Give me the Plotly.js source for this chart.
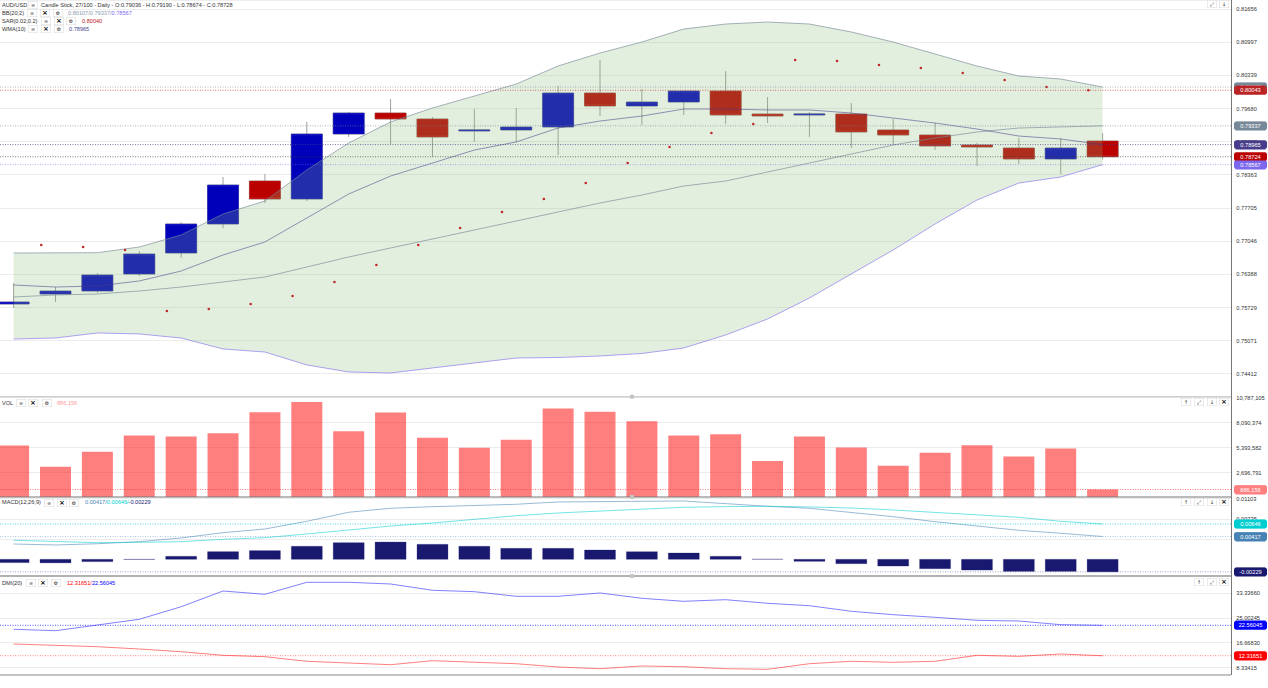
<!DOCTYPE html>
<html><head><meta charset="utf-8">
<script src="https://cdn.plot.ly/plotly-3.0.1.min.js"></script>
<style>html,body{margin:0;padding:0;background:#fff;overflow:hidden}#c{width:1268px;height:688px}</style>
</head><body><div id="c"></div>
<script>
// ---- Candles ----
const idx = [0,1,2,3,4,5,6,7,8,9,10,11,12,13,14,15,16,17,18,19,20,21,22,23,24,25,26];
const open  = [.75801,.75999,.76059,.76396,.76813,.77389,.78242,.77885,.79175,.79592,.79473,.79235,.79255,.79314,.79989,.79731,.79810,.80028,.79572,.79552,.79572,.79255,.79155,.78957,.78897,.78679,.79036];
const high  = [.76218,.76138,.76416,.76853,.77429,.78322,.78381,.79413,.79612,.79870,.79513,.79671,.79691,.80128,.80644,.80068,.80028,.80425,.79909,.79612,.79790,.79473,.79393,.78997,.79096,.79096,.79190];
const low   = [.75722,.75841,.76019,.76357,.76714,.77309,.77806,.77845,.79116,.78977,.78719,.79017,.79017,.78758,.79532,.79354,.79552,.79374,.79393,.79116,.78897,.78957,.78858,.78540,.78580,.78381,.78674];
const close = [.75841,.76059,.76377,.76794,.77389,.78163,.77885,.79175,.79592,.79473,.79116,.79255,.79314,.79989,.79731,.79810,.80028,.79552,.79532,.79572,.79215,.79155,.78937,.78917,.78679,.78897,.78724];
// ---- Overlays ----
const bbUpper = [.76813,.76813,.76819,.76932,.77171,.77587,.77845,.78461,.78997,.79413,.79691,.79929,.80167,.80525,.80783,.81001,.81259,.81358,.81398,.81358,.81200,.81001,.80763,.80525,.80326,.80267,.80107];
const bbMid   = [.75940,.75980,.75999,.76059,.76138,.76238,.76337,.76535,.76734,.76913,.77091,.77270,.77448,.77627,.77806,.77964,.78143,.78242,.78421,.78600,.78778,.78957,.79096,.79215,.79294,.79314,.79337];
const bbLower = [.75106,.75126,.75226,.75206,.75126,.74908,.74848,.74591,.74452,.74432,.74531,.74630,.74729,.74739,.74769,.74819,.74928,.75186,.75503,.75920,.76396,.76873,.77389,.77865,.78202,.78322,.78567];
const wma     = [.76178,.76138,.76158,.76258,.76456,.76774,.77032,.77508,.77984,.78341,.78600,.78857,.79017,.79294,.79433,.79532,.79671,.79671,.79652,.79652,.79592,.79493,.79393,.79274,.79135,.79076,.78965];
const sarIdx  = [1,2,3,4,5,6,7,8,9,10,11,12,13,14,15,16,17,18,19,20,21,22,23,24,25,26];
const sar     = [.76972,.76932,.76873,.75662,.75702,.75801,.75960,.76238,.76575,.76972,.77309,.77627,.77885,.78202,.78600,.78917,.79195,.79374,.80644,.80624,.80544,.80485,.80386,.80247,.80107,.80043];
// ---- Volume ----
const volume = [5645000,3352000,4957000,6737000,6627000,6955000,9248000,10339000,7173000,9215000,6485000,5394000,6267000,9652000,9280000,8265000,6737000,6846000,3974000,6627000,5426000,3461000,4848000,5677000,4444000,5317000,886156];
// ---- MACD ----
const macd   = [.0028,.00262,.00285,.00322,.0039,.00487,.00554,.00695,.0086,.00933,.00962,.00988,.01006,.01048,.01061,.01061,.01066,.01011,.00969,.00933,.0086,.00779,.00688,.00615,.0053,.00476,.00417];
const signal = [.00348,.00322,.00304,.00311,.00322,.00366,.00395,.00463,.00536,.00609,.00664,.00737,.00797,.00847,.00883,.00925,.00951,.00962,.00969,.00957,.00938,.00902,.0086,.00816,.00768,.00695,.00646];
const hist   = [-.0006,-.00065,-.00042,-.00003,.00055,.0014,.00159,.00238,.00304,.00316,.00274,.00238,.00201,.00201,.0017,.00139,.00115,.00055,.00002,-.00037,-.0008,-.00123,-.00172,-.00196,-.0022,-.0022,-.00229];
// ---- DMI ----
const diPlus  = [21.22,20.74,22.66,24.58,28.82,34.11,33.0,37.04,37.04,36.47,34.35,33.88,32.33,32.33,33.44,31.65,30.64,31.18,29.97,29.16,27.28,26.13,25.26,24.25,24.01,22.77,22.56045];
const diMinus = [16.27,15.93,15.36,14.58,13.67,12.46,11.99,10.44,9.97,9.30,10.64,10.10,9.63,8.52,7.95,8.86,8.62,7.95,7.75,9.63,10.44,10.10,10.44,12.46,12.12,12.90,12.31651];
// ---- Axis ticks ----
const priceTicks = [.81656,.80997,.80339,.79680,.79022,.78363,.77705,.77046,.76388,.75729,.75071,.74412];
const priceTickText = ["0.81656","0.80997","0.80339","0.79680","0.79022","0.78363","0.77705","0.77046","0.76388","0.75729","0.75071","0.74412"];
const volTicks = [10787105,8090374,5393582,2696791];
const volTickText = ["10,787,105","8,090,374","5,393,582","2,696,791"];
const macdTicks = [.01103,.00735,.00368];
const macdTickText = ["0.01103","0.00735",""];
const dmiTicks = [33.3366,25.00245,16.6683,8.33415];
const dmiTickText = ["33.33660","25.00245","16.66830","8.33415"];
// ---- Last values: [value, text, label colour, line colour] ----
const priceLast = [[.80107,"0.80107","#778899","rgba(119,136,153,.8)"],[.80043,"0.80043","#bb2222","rgba(200,40,40,.8)"],[.79337,"0.79337","#778899","rgba(119,136,153,.8)"],[.78965,"0.78965","#483d8b","rgba(72,61,139,.9)"],[.78724,"0.78724","#bb0000","rgba(60,60,60,.85)"],[.78567,"0.78567","#7b68ee","rgba(123,104,238,.7)"]];
const volLast = [[886156,"886,156","#ff7f7f","rgba(255,40,40,.8)"]];
const macdLast = [[.00646,"0.00646","#00ced1","rgba(0,206,209,.85)"],[.00417,"0.00417","#4682b4","rgba(70,130,180,.55)"],[-.00229,"-0.00229","#191970","rgba(25,25,112,.5)"]];
const dmiLast = [[22.56045,"22.56045","#0000ff","rgba(0,0,255,.85)"],[12.31651,"12.31651","#ff0000","rgba(255,0,0,.6)"]];

const H = 688, W = 1231, FONT = "Liberation Sans, Arial, sans-serif";
const py = y => 1 - y / H, pxx = x => x / W;
const BLUE = "#0000bb", RED = "#bb0000";

function candle(hi, lo, lineCol, lineW, upFill, dnFill, upLine, dnLine) {
  return {type:"candlestick", x:idx, open:open, high:hi, low:lo, close:close, xaxis:"x", yaxis:"y", whiskerwidth:0,
    increasing:{fillcolor:upFill, line:{color:upLine||lineCol, width:lineW}},
    decreasing:{fillcolor:dnFill, line:{color:dnLine||lineCol, width:lineW}}, hoverinfo:"skip", showlegend:false};
}
const bodyHi = open.map((o,i)=>Math.max(o,close[i])), bodyLo = open.map((o,i)=>Math.min(o,close[i]));
const line = (y, col, w, yaxis, extra) => Object.assign({type:"scatter", mode:"lines", x:idx, y:y, yaxis:yaxis, xaxis:"x", line:{color:col, width:w}, hoverinfo:"skip", showlegend:false}, extra||{});

const traces = [
  candle(high, low, "rgba(90,100,90,.6)", 1, BLUE, RED),
  candle(bodyHi, bodyLo, "", .4, BLUE, RED, "#3a3ac8", "#c84040"),
  line(bbUpper, "rgba(119,136,153,.65)", 1, "y"),
  line(bbLower, "rgba(123,104,238,.6)", 1, "y", {fill:"tonexty", fillcolor:"rgba(136,189,117,.24)"}),
  line(bbMid, "rgba(119,136,153,.65)", 1, "y"),
  line(wma, "rgba(72,61,139,.55)", 1, "y"),
  {type:"scatter", mode:"markers", x:sarIdx.map(i=>i-0.34), y:sar, yaxis:"y", xaxis:"x", marker:{color:"#c02a2a", size:2.6}, hoverinfo:"skip", showlegend:false},
  {type:"bar", x:idx, y:volume, yaxis:"y2", xaxis:"x", width:0.74, marker:{color:"rgba(255,0,0,.5)", line:{width:0}}, hoverinfo:"skip", showlegend:false},
  {type:"bar", x:idx, y:hist, yaxis:"y3", xaxis:"x", width:0.74, marker:{color:"#191970", line:{color:"rgba(25,25,112,.35)", width:.7}}, hoverinfo:"skip", showlegend:false},
  line(macd, "rgba(70,130,180,.55)", 1, "y3"),
  line(signal, "rgba(0,206,209,.55)", 1, "y3"),
  line(diPlus, "rgba(60,60,255,.65)", 1, "y4"),
  line(diMinus, "rgba(255,40,40,.6)", 1, "y4")
];

function yax(top, bot, range, tv, tt) {
  return {domain:[py(bot), py(top)], range:range, side:"right", anchor:"x", fixedrange:true,
    tickmode:"array", tickvals:tv, ticktext:tt, ticks:"outside", ticklen:3, tickcolor:"rgba(0,0,0,0)",
    tickfont:{family:FONT, size:5.7, color:"#333"}, showgrid:true, gridcolor:"#ececec", gridwidth:1, zeroline:false,
    showline:true, linecolor:"#777", linewidth:1.2};
}

const shapes = [], anns = [];
const PILL = "M-14.5,-4.2 L14.5,-4.2 Q16.5,-4.2 16.5,-2.2 L16.5,2.2 Q16.5,4.2 14.5,4.2 L-14.5,4.2 Q-16.5,4.2 -16.5,2.2 L-16.5,-2.2 Q-16.5,-4.2 -14.5,-4.2 Z";
function lastLines(list, yref) {
  list.forEach(l => {
    shapes.push({type:"line", xref:"paper", yref:yref, x0:0, x1:1, y0:l[0], y1:l[0], layer:"above", line:{color:l[3], width:.8, dash:"1px,1.5px"}});
    shapes.push({type:"path", xref:"paper", yref:yref, xsizemode:"pixel", ysizemode:"pixel", xanchor:pxx(1250.5), yanchor:l[0], path:PILL, layer:"above", fillcolor:l[2], line:{width:0}});
    anns.push({xref:"paper", yref:yref, x:pxx(1250.5), y:l[0], text:l[1], showarrow:false, xanchor:"center", yanchor:"middle",
      width:29, height:8.4, borderpad:0, bgcolor:l[2], font:{family:FONT, size:5.7, color:"#fff"}});
  });
}
lastLines(priceLast, "y"); lastLines(volLast, "y2"); lastLines(macdLast, "y3"); lastLines(dmiLast, "y4");

function sep(y, col, w) { shapes.push({type:"line", xref:"paper", yref:"paper", x0:0, x1:1, y0:py(y), y1:py(y), layer:"above", line:{color:col, width:w}}); }
sep(396.7, "#cfcfcf", 1.5); sep(497, "#777", 1.2); sep(576, "#666", 1.2); sep(675, "#888", 1.2);
[396.7, 497, 576].forEach(y => shapes.push({type:"rect", xref:"paper", yref:"paper", x0:pxx(630), x1:pxx(634), y0:py(y+2), y1:py(y-2), layer:"above", fillcolor:"#c4c4c4", line:{width:0}}));
shapes.push({type:"rect", xref:"paper", yref:"paper", x0:0, x1:1, y0:py(1), y1:py(0), layer:"above", fillcolor:"#eeeeee", line:{width:0}});

function txt(x, y, t, col) {
  anns.push({xref:"paper", yref:"paper", x:pxx(x), y:py(y), text:t, showarrow:false, xanchor:"left", yanchor:"middle", borderpad:0,
    font:{family:FONT, size:5.6, color:col||"#333"}});
}
function btn(x, y, g, size) {
  anns.push({xref:"paper", yref:"paper", x:pxx(x), y:py(y), text:g, showarrow:false, xanchor:"center", yanchor:"middle", width:9, height:7, borderpad:0, borderwidth:.5,
    bordercolor:"#d8d8d8", bgcolor:"#fff", font:{family:"DejaVu Sans", size:size||5, color:"#111"}});
}
const INF = "∞", CROSS = "<b>×</b>", GEAR = "⚙", UP = "↑", DOWN = "↓", EXP = "⤢";
function controls(xs, y) { btn(xs[0], y, INF); btn(xs[1], y, CROSS, 7); btn(xs[2], y, GEAR); }
const sp = (t, c) => `<span style="color:${c}">${t}</span>`;

txt(1, 5, "AUD/USD"); btn(33, 5, INF); txt(40, 5, "Candle Stick, 27/100 - Daily - O:0.79036 - H:0.79190 - L:0.78674 - C:0.78728");
txt(1, 13, "BB(20;2)"); controls([32,45,58], 13); txt(67, 13, sp("0.80107/0.79337/","#8a9aaa") + sp("0.78567","#7b68ee"));
txt(1, 21, "SAR(0.02;0.2)"); controls([46,59,71], 21); txt(81, 21, "0.80040", "#bb2222");
txt(1, 29, "WMA(10)"); controls([33,46,59], 29); txt(68, 29, "0.78965", "#483d8b");
txt(1, 403, "VOL"); controls([21,33,47], 403); txt(56, 403, "886,156", "#ff9a9a");
txt(1, 502, "MACD(12;26;9)"); controls([49,62,74], 503); txt(84, 502, sp("0.00417/","#4682b4") + sp("0.00646/","#00ced1") + sp("-0.00229","#191970"));
txt(1, 582.5, "DMI(20)"); controls([31,43,56], 583); txt(66, 582.5, sp("12.31651/","#ff0000") + sp("22.56045","#0000ff"));

function rowBtns(xs, y, glyphs) { xs.forEach((x,i)=>btn(x, y, glyphs[i], glyphs[i]===CROSS?7:5)); }
rowBtns([1212,1224], 4, [EXP,DOWN]);
rowBtns([1186,1199,1212,1224], 402, [UP,EXP,DOWN,CROSS]);
rowBtns([1186,1199,1212,1224], 502, [UP,EXP,DOWN,CROSS]);
rowBtns([1199,1212,1224], 582, [UP,EXP,CROSS]);

const layout = {
  width:1268, height:688, margin:{l:0, r:37, t:0, b:0, pad:0}, paper_bgcolor:"#fff", plot_bgcolor:"#fff",
  showlegend:false, barmode:"overlay", boxmode:"overlay", boxgap:0.26, boxgroupgap:0, hovermode:false,
  xaxis:{range:[-0.325, 29.065], visible:false, fixedrange:true, rangeslider:{visible:false}, anchor:"y4"},
  yaxis: yax(0, 396.5, [.73965, .81835], priceTicks, priceTickText),
  yaxis2: yax(396.5, 497, [76000, 10940000], volTicks, volTickText),
  yaxis3: yax(497, 576, [-.00305, .01139], macdTicks, macdTickText),
  yaxis4: yax(576, 675, [5.83, 39.16], dmiTicks, dmiTickText),
  shapes:shapes, annotations:anns
};
Plotly.newPlot("c", traces, layout, {displayModeBar:false, responsive:false});
</script></body></html>
